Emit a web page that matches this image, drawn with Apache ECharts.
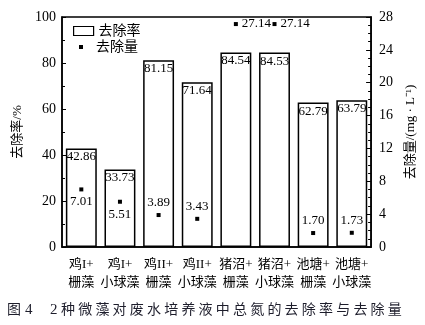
<!DOCTYPE html>
<html><head><meta charset="utf-8">
<script src="https://cdn.jsdelivr.net/npm/echarts@6/dist/echarts.min.js"></script>
<style>html,body{margin:0;padding:0;background:#fff}#c{width:425px;height:325px}</style>
</head><body><div id="c"></div>
<script>
const categories = ['鸡I+\n栅藻','鸡I+\n小球藻','鸡II+\n栅藻','鸡II+\n小球藻','猪沼+\n栅藻','猪沼+\n小球藻','池塘+\n栅藻','池塘+\n小球藻'];
const removalRate = [42.86, 33.73, 81.15, 71.64, 84.54, 84.53, 62.79, 63.79];
const removalAmount = [7.01, 5.51, 3.89, 3.43, 27.14, 27.14, 1.70, 1.73];
const amountLabelPos = ['bottom','bottom','top','top','right','right','top','top'];
const leftTicks = [0, 20, 40, 60, 80, 100];
const rightTicks = [0, 4, 8, 12, 16, 20, 24, 28];
const captionTitle = '种微藻对废水培养液中总氮的去除率与去除量';

const serif = '"Liberation Serif","Noto Sans CJK SC",serif';
const capColor = '#1d1d2b';
const captionGraphics = [
  {type: 'text', left: 7, top: 303, style: {text: '图', fontSize: 14, fill: capColor, fontFamily: serif}},
  {type: 'text', left: 25, top: 303, style: {text: '4', fontSize: 15, fill: capColor, fontFamily: serif}},
  {type: 'text', left: 50, top: 303, style: {text: '2', fontSize: 15, fill: capColor, fontFamily: serif}}
];
Array.from(captionTitle).forEach((ch, i) => {
  captionGraphics.push({type: 'text', left: 61 + i * 17.2, top: 303, style: {text: ch, fontSize: 14, fill: capColor, fontFamily: serif}});
});

const chart = echarts.init(document.getElementById('c'));
chart.setOption({
  animation: false,
  textStyle: {fontFamily: serif, color: '#000'},
  grid: {left: 62, right: 53, top: 17, bottom: 78, show: true, borderColor: '#000', borderWidth: 1.5, backgroundColor: 'transparent'},
  legend: [
    {data: [{name: '去除率', icon: 'rect'}], left: 73, top: 24, padding: 0, itemWidth: 20, itemHeight: 9, textStyle: {fontSize: 14, fontFamily: serif, color: '#000'}, itemStyle: {borderWidth: 1.2}},
    {data: [{name: '去除量', icon: 'rect'}], left: 79, top: 40, padding: 0, itemWidth: 4, itemHeight: 4, textStyle: {fontSize: 14, fontFamily: serif, color: '#000', padding: [0,0,0,8]}}
  ],
  xAxis: {
    type: 'category', data: categories,
    axisLine: {lineStyle: {color: '#000', width: 1.5}},
    axisTick: {show: false},
    axisLabel: {fontSize: 13, color: '#000', lineHeight: 18, margin: 9, fontFamily: serif, interval: 0}
  },
  yAxis: [
    {type: 'value', min: leftTicks[0], max: leftTicks[leftTicks.length-1], interval: 20,
     name: '去除率/%', nameLocation: 'middle', nameRotate: 90, nameGap: 36,
     nameTextStyle: {fontSize: 13, color: '#000', fontFamily: serif},
     axisLine: {show: true, lineStyle: {color: '#000', width: 1.5}},
     axisTick: {show: true, inside: true, length: 4, lineStyle: {color: '#000'}},
     minorTick: {show: true, splitNumber: 2, length: 3, lineStyle: {color: '#000'}},
     splitLine: {show: false},
     axisLabel: {fontSize: 14, color: '#000', margin: 6, fontFamily: serif}},
    {type: 'value', min: rightTicks[0], max: rightTicks[rightTicks.length-1], interval: 4, position: 'right',
     name: '去除量/(mg · L⁻¹)', nameLocation: 'middle', nameRotate: 90, nameGap: 30,
     nameTextStyle: {fontSize: 13, color: '#000', fontFamily: serif},
     axisLine: {show: true, lineStyle: {color: '#000', width: 1.5}},
     axisTick: {show: true, inside: true, length: 5, lineStyle: {color: '#000'}},
     minorTick: {show: true, splitNumber: 4, length: 3, lineStyle: {color: '#000'}},
     splitLine: {show: false},
     axisLabel: {fontSize: 14, color: '#000', margin: 8, fontFamily: serif}}
  ],
  series: [
    {name: '去除率', type: 'bar', data: removalRate, barCategoryGap: '20%',
     itemStyle: {color: '#fff', borderColor: '#000', borderWidth: 1.5},
     label: {show: true, position: 'insideTop', distance: 2, fontSize: 13, color: '#000', fontFamily: serif, formatter: p => p.value.toFixed(2)}},
    {name: '去除量', type: 'scatter', yAxisIndex: 1, symbol: 'rect', symbolSize: 4,
     itemStyle: {color: '#000', opacity: 1},
     data: removalAmount.map((v, i) => ({value: v, label: {position: amountLabelPos[i]}})),
     label: {show: true, fontSize: 13, color: '#000', fontFamily: serif, distance: 4, formatter: p => p.value.toFixed(2)}}
  ],
  graphic: captionGraphics
});
</script></body></html>
